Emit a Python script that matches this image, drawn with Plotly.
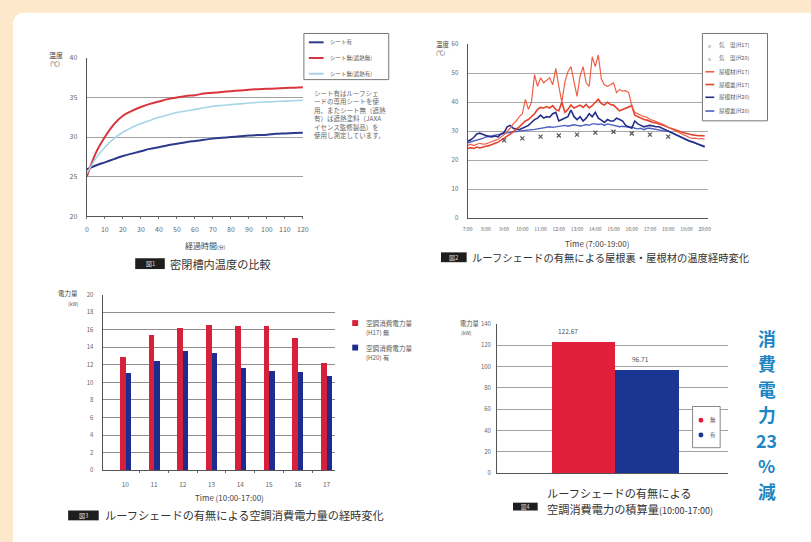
import plotly.graph_objects as go

W, H = 811, 542
FONT = "Noto Sans CJK JP"

# ---------------- 図1 密閉槽内温度の比較 ----------------
elapsed_min = [0, 5, 10, 15, 20, 25, 30, 35, 40, 45, 50, 55, 60,
               65, 70, 75, 80, 85, 90, 95, 100, 105, 110, 115, 120]
temp_sheet_on = [25.9, 26.4, 26.8, 27.2, 27.6, 27.9, 28.2, 28.5, 28.7, 28.95, 29.15, 29.35, 29.5,
                 29.65, 29.8, 29.9, 30.0, 30.1, 30.2, 30.25, 30.3, 30.4, 30.45, 30.5, 30.55]
temp_sheet_off_plain = [25.0, 28.0, 30.0, 31.6, 32.7, 33.3, 33.8, 34.2, 34.5, 34.8, 35.0, 35.2, 35.3,
                        35.5, 35.6, 35.7, 35.8, 35.9, 36.0, 36.05, 36.1, 36.15, 36.2, 36.25, 36.3]
temp_sheet_off_coated = [25.4, 27.3, 28.7, 29.8, 30.6, 31.2, 31.7, 32.1, 32.5, 32.8, 33.1, 33.3, 33.5,
                         33.7, 33.9, 34.0, 34.1, 34.2, 34.3, 34.4, 34.45, 34.5, 34.55, 34.6, 34.65]
fig1_series = ["シート有", "シート無(遮熱無)", "シート無(遮熱有)"]

# ---------------- 図2 屋根裏・屋根材の温度経時変化 (10分毎, 7:00-20:00) ----------------
clock_ticks = [7, 8, 9, 10, 11, 12, 13, 14, 15, 16, 17, 18, 19, 20]
clock_labels = ["7:00", "8:00", "9:00", "10:00", "11:00", "12:00", "13:00",
                "14:00", "15:00", "16:00", "17:00", "18:00", "19:00", "20:00"]
roof_mat_h17 = [25.0, 25.5, 25.0, 25.3, 25.8, 25.5,
                25.6, 26.0, 26.3, 26.8, 27.2, 28.0,
                28.8, 30.0, 31.0, 32.5, 33.5, 35.0,
                36.0, 41.0, 37.5, 40.0, 49.5, 45.5,
                48.4, 46.7, 47.5, 48.4, 46.0, 51.7,
                45.5, 40.0, 47.0, 50.5, 52.3, 46.7,
                42.0, 49.0, 52.3, 46.7, 45.5, 55.7,
                52.3, 56.3, 48.0, 46.0, 45.5, 46.0,
                46.7, 43.3, 44.4, 43.8, 44.0, 43.3,
                38.8, 36.5, 36.0, 35.5, 35.0, 34.8,
                34.0, 33.7, 33.3, 33.0, 32.5, 32.0,
                31.3, 30.8, 30.3, 29.8, 29.2, 28.6,
                28.2, 27.8, 27.5, 27.6, 27.3, 27.5,
                27.2]
roof_attic_h17 = [24.0, 24.3, 24.0, 24.5, 24.2, 24.6,
                  24.8, 25.0, 25.3, 25.8, 26.2, 26.8,
                  27.5, 28.3, 29.0, 29.8, 30.5, 31.5,
                  32.5, 33.5, 34.0, 35.0, 36.0, 37.5,
                  38.2, 38.0, 38.5, 38.0, 38.8, 37.5,
                  37.0, 40.0, 36.5, 37.5, 39.0, 38.0,
                  38.5, 39.0, 38.2, 39.2, 38.0, 38.8,
                  40.0, 41.0, 39.5, 39.0, 40.0, 39.2,
                  39.0, 38.0, 37.0, 37.5, 38.0, 38.5,
                  38.8, 35.5, 35.0, 34.5, 34.0, 33.8,
                  33.3, 33.0, 32.8, 32.5, 32.2, 31.8,
                  31.3, 31.0, 30.6, 30.2, 29.8, 29.5,
                  29.2, 28.9, 28.7, 28.6, 28.4, 28.5,
                  28.3]
roof_mat_h20 = [26.5, 27.0, 27.8, 29.0, 29.3, 28.8,
                28.5, 28.2, 28.0, 28.3, 28.0, 29.0,
                29.5, 31.5, 32.0, 31.0, 30.8, 30.5,
                31.0, 31.5, 32.0, 33.0, 34.0, 34.5,
                35.5, 34.5, 35.0, 34.8, 36.0, 36.5,
                33.5, 34.0, 34.5, 35.0, 37.3, 35.0,
                34.0, 35.0, 33.5, 34.5, 36.0, 35.0,
                36.5, 34.5, 33.8, 33.0, 34.0, 33.5,
                33.5, 34.5, 34.0, 33.5, 32.0, 31.5,
                31.0, 33.5, 32.5, 32.0, 31.5, 31.8,
                32.0, 31.8, 31.5, 31.5, 31.0, 30.5,
                30.0, 29.5, 29.0, 28.5, 28.0, 27.5,
                27.0, 26.5, 26.3, 25.8, 25.3, 25.0,
                24.5]
roof_attic_h20 = [26.0, 26.3, 26.5, 27.0, 27.2, 27.5,
                  28.0, 28.2, 28.5, 28.8, 29.0, 29.2,
                  29.4, 29.5, 29.6, 29.8, 29.9, 30.0,
                  30.0, 30.2, 30.3, 30.5, 30.6, 30.8,
                  31.0, 31.0, 31.2, 31.5, 31.3, 31.5,
                  31.5, 31.8, 32.0, 31.7, 32.0, 32.2,
                  32.0, 31.8, 32.0, 32.3, 32.0, 32.5,
                  32.5, 32.3, 32.5, 32.0, 32.5, 32.2,
                  32.0, 31.8, 31.5, 31.7, 31.5, 31.3,
                  31.5, 31.0, 30.8, 31.0, 30.5, 31.0,
                  31.0, 30.8, 30.5, 30.5, 30.3, 30.0,
                  30.0, 29.5, 29.0, 28.5, 28.0, 27.5,
                  27.0, 26.6, 26.2, 25.8, 25.4, 25.0,
                  24.8]
air_hours = [9, 10, 11, 12, 13, 14, 15, 16, 17, 18]
air_temp_h17 = [26.8, 27.5, 28.1, 28.5, 28.8, 29.5, 29.8, 29.2, 28.8, 28.1]
fig2_series = ["気　温(H17)", "気　温(H20)", "屋根材(H17)", "屋根裏(H17)", "屋根材(H20)", "屋根裏(H20)"]

# ---------------- 図3 空調消費電力量の経時変化 ----------------
hours_ac = [10, 11, 12, 13, 14, 15, 16, 17]
power_without = [12.9, 15.4, 16.2, 16.6, 16.5, 16.5, 15.1, 12.3]
power_with = [11.1, 12.5, 13.6, 13.4, 11.7, 11.3, 11.2, 10.75]

# ---------------- 図4 空調消費電力の積算量 ----------------
total_labels = ["無", "有"]
total_power = [122.67, 96.71]

# 縦書きの見出し
headline_chars = ["消", "費", "電", "力", "23", "%", "減"]

RED3, BLUE3 = "#d7213a", "#1f2c8f"
C1_COLORS = ["#2c3a8c", "#d8363c", "#a6d5e6"]
C2_COLORS = ["#ef5f48", "#e2432c", "#242e88", "#4c5fc2"]


def px(x):
    return x / W


def py(y):
    return 1 - y / H


fig = go.Figure()

# 図1 curves
for vals, name, col, w in zip([temp_sheet_on, temp_sheet_off_plain, temp_sheet_off_coated],
                              fig1_series, C1_COLORS, [2.0, 2.0, 1.6]):
    fig.add_trace(go.Scatter(x=elapsed_min, y=vals, name=name, mode="lines",
                             line=dict(color=col, width=w, shape="spline"),
                             xaxis="x", yaxis="y"))

# 図2 curves
times = [7 + i / 6 for i in range(len(roof_mat_h17))]
for vals, name, col, w in zip([roof_attic_h20, roof_mat_h20, roof_attic_h17, roof_mat_h17],
                              ["屋根裏(H20)", "屋根材(H20)", "屋根裏(H17)", "屋根材(H17)"],
                              [C2_COLORS[3], C2_COLORS[2], C2_COLORS[1], C2_COLORS[0]],
                              [1.4, 1.6, 1.6, 1.2]):
    fig.add_trace(go.Scatter(x=times, y=vals, name=name, mode="lines",
                             line=dict(color=col, width=w), xaxis="x2", yaxis="y2"))
fig.add_trace(go.Scatter(x=air_hours, y=air_temp_h17, name=fig2_series[0], mode="markers",
                         marker=dict(symbol="x-thin-open", size=4, color="#555",
                                     line=dict(color="#555", width=1.2)),
                         xaxis="x2", yaxis="y2"))

# 図3 bars
fig.add_trace(go.Bar(x=hours_ac, y=power_without, offset=-0.2, width=0.2,
                     marker=dict(color=RED3, line=dict(width=0)), xaxis="x3", yaxis="y3"))
fig.add_trace(go.Bar(x=hours_ac, y=power_with, offset=0.0, width=0.18,
                     marker=dict(color=BLUE3, line=dict(width=0)), xaxis="x3", yaxis="y3"))

# 図4 bars
fig.add_trace(go.Bar(x=[0, 1], y=total_power, width=1,
                     marker=dict(color=["#e11f3b", "#1b3592"], line=dict(width=0)),
                     xaxis="x4", yaxis="y4"))

tick_font = dict(family=FONT, color="#666")
ax_common = dict(showline=True, linecolor="#555", linewidth=1.3, zeroline=False, fixedrange=True)

layout = dict(
    width=W, height=H, autosize=False, showlegend=False,
    margin=dict(l=0, r=0, t=0, b=0, pad=0),
    paper_bgcolor="#fde8cb", plot_bgcolor="rgba(0,0,0,0)",
    font=dict(family=FONT, color="#333"),
    bargap=0,
    xaxis=dict(domain=[px(83), px(302)], range=[0, 120], anchor="y",
               tickvals=list(range(0, 121, 10)), ticks="outside", ticklen=2, tickcolor="#777",
               tickfont=dict(size=7, **tick_font), ticklabelstandoff=4, showgrid=False, **ax_common),
    yaxis=dict(domain=[py(214), py(53)], range=[20, 40], anchor="x",
               tickvals=[20, 25, 30, 35, 40], ticks="", tickfont=dict(size=7, **tick_font),
               ticklabelstandoff=7, showgrid=True, gridcolor="#a0a0a0", gridwidth=1, **ax_common),
    xaxis2=dict(domain=[px(469), px(713)], range=[7, 20.2], anchor="y2",
                tickvals=clock_ticks, ticktext=clock_labels, ticks="", tickangle=0,
                tickfont=dict(size=5, **tick_font), ticklabelstandoff=6, showgrid=False, **ax_common),
    yaxis2=dict(domain=[py(216), py(39)], range=[0, 60], anchor="x2",
                tickvals=list(range(0, 61, 10)), ticks="", tickfont=dict(size=6, **tick_font),
                ticklabelstandoff=7, showgrid=True, gridcolor="#a8a8a8", gridwidth=1, **ax_common),
    xaxis3=dict(domain=[px(99), px(335)], range=[9.21, 17.31], anchor="y3",
                tickvals=hours_ac, ticks="", tickfont=dict(size=6.5, **tick_font),
                ticklabelstandoff=8, showgrid=False,
                minor=dict(tickvals=[10.5, 11.5, 12.5, 13.5, 14.5, 15.5, 16.5], ticks="outside",
                           ticklen=2, tickcolor="#666", showgrid=False), **ax_common),
    yaxis3=dict(domain=[py(473), py(294)], range=[0, 20], anchor="x3",
                tickvals=list(range(0, 21, 2)), ticks="", tickfont=dict(size=6, **tick_font),
                ticklabelstandoff=7, showgrid=True, gridcolor="#8e8e8e", gridwidth=1, **ax_common),
    xaxis4=dict(domain=[px(499), px(733)], range=[-1.375, 2.28], anchor="y4",
                showticklabels=False, ticks="", showgrid=False, **ax_common),
    yaxis4=dict(domain=[py(476), py(324)], range=[0, 140], anchor="x4",
                tickvals=list(range(0, 141, 20)), ticks="", tickfont=dict(size=6, **tick_font),
                ticklabelstandoff=4, showgrid=True, gridcolor="#a0a0a0", gridwidth=1, **ax_common),
)
fig.update_layout(**layout)

shapes = []
annots = []


def text(x, y, s, size=7, color="#444", xanchor="left", bold=False, family=FONT, yanchor="middle"):
    if bold:
        s = "<b>" + s + "</b>"
    annots.append(dict(x=px(x), y=py(y), xref="paper", yref="paper", text=s, showarrow=False,
                       xanchor=xanchor, yanchor=yanchor, align=xanchor,
                       font=dict(size=size, color=color, family=family)))


def rect(x0, y0, x1, y1, fill="white", line="#888", lw=1, layer="above"):
    shapes.append(dict(type="rect", xref="paper", yref="paper", x0=px(x0), x1=px(x1),
                       y0=py(y1), y1=py(y0), fillcolor=fill, line=dict(color=line, width=lw),
                       layer=layer))


def hline(x0, x1, y, color, width):
    shapes.append(dict(type="line", xref="paper", yref="paper", x0=px(x0), x1=px(x1),
                       y0=py(y), y1=py(y), line=dict(color=color, width=width)))


# white rounded page panel
r = 13
panel = (f"M {px(8)},{py(560)} L {px(8)},{py(7 + r)} Q {px(8)},{py(7)} {px(8 + r)},{py(7)} "
         f"L {px(830)},{py(7)} L {px(830)},{py(560)} Z")
shapes.append(dict(type="path", path=panel, xref="paper", yref="paper",
                   fillcolor="white", line=dict(width=0), layer="below"))

# ---- 図1 labels ----
text(43, 50, "温度", 7, "#444")
text(44, 59, "(℃)", 6, "#555")
text(203, 244, "経過時間<span style='font-size:5px'>(分)</span>", 8, "#444", "center")
rect(303, 28, 389, 75, "white", "#777", 1)
for i, (name, col) in enumerate(zip(fig1_series, C1_COLORS)):
    yy = [37, 53, 69][i]
    hline(308, 323, yy, col, 2)
    text(327, yy, name, 5.5, "#555")
note_lines = ["シート有はルーフシェ", "ードの専用シートを使", "用、またシート無（遮熱",
              "有）は遮熱塗料（JAXA", "イセンス監修製品）を", "使用し測定しています。"]
text(311, 82, "<br>".join(note_lines), 6.5, "#666", yanchor="top")
rect(132, 257, 162, 268, "#1e1e1e", "#1e1e1e", 0)
text(147, 262.5, "図1", 6, "#ddd", "center")
text(165, 262.5, "密閉槽内温度の比較", 11.2, "#333")

# ---- 図2 labels ----
text(435, 39, "温度", 6.5, "#444")
text(435, 48, "(℃)", 5.5, "#555")
text(600, 242, "Time (7:00-19:00)", 8, "#444", "center")
rect(707, 28, 773, 117, "white", "#777", 1)
leg_y = [40, 53, 67, 80, 93, 107]
leg_cols = [None, None] + C2_COLORS
for i, (name, col) in enumerate(zip(fig2_series, leg_cols)):
    if col is None:
        text(714, leg_y[i], "×", 5, "#555", "center")
    else:
        hline(710, 719, leg_y[i], col, 1.6)
    text(722, leg_y[i], name, 5.5, "#555")
rect(442, 251, 468, 261, "#1e1e1e", "#1e1e1e", 0)
text(455, 256, "図2", 6, "#ddd", "center")
text(471, 256, "ルーフシェードの有無による屋根裏・屋根材の温度経時変化", 10.3, "#333")

# ---- 図3 labels ----
text(52, 292, "電力量", 6.5, "#444")
text(62, 303, "(kW)", 5, "#555")
text(228, 501, "Time (10:00-17:00)", 8, "#444", "center")
rect(352, 320, 358, 326, RED3, RED3, 0)
text(364, 323, "空調消費電力量", 6.6, "#555")
text(364, 333, "(H17) 無", 6.2, "#555")
rect(352, 345, 358, 351, BLUE3, BLUE3, 0)
text(364, 348, "空調消費電力量", 6.6, "#555")
text(364, 358, "(H20) 有", 6.2, "#555")
rect(64, 514, 95, 524, "#1e1e1e", "#1e1e1e", 0)
text(79.5, 519, "図3", 6, "#ddd", "center")
text(99, 519, "ルーフシェードの有無による空調消費電力量の経時変化", 11.2, "#333")

# ---- 図4 labels ----
text(459, 323, "電力量", 6.3, "#444")
text(460, 333, "(kW)", 5, "#555")
for i, v in enumerate(total_power):
    annots.append(dict(x=i, y=v, xref="x4", yref="y4", text=f"{v:.2f}", showarrow=False,
                       xanchor="center", yanchor="bottom", yshift=4, xshift=[-16, -7][i],
                       font=dict(size=6.5, color="#555", family=FONT)))
rect(697, 408, 725, 450, "white", "#888", 1)
shapes.append(dict(type="circle", xref="paper", yref="paper", x0=px(703), x1=px(708),
                   y0=py(424.5), y1=py(419.5), fillcolor="#e11f3b", line=dict(width=0)))
shapes.append(dict(type="circle", xref="paper", yref="paper", x0=px(703), x1=px(708),
                   y0=py(439.5), y1=py(434.5), fillcolor="#1b3592", line=dict(width=0)))
text(713, 422, total_labels[0], 5.5, "#555")
text(713, 437, total_labels[1], 5.5, "#555")
rect(515, 506, 540, 514, "#1e1e1e", "#1e1e1e", 0)
text(527.5, 510, "図4", 5.5, "#ddd", "center")
text(547, 496, "ルーフシェードの有無による", 11.2, "#333")
text(547, 512, "空調消費電力の積算量<span style='font-size:9px'>(10:00-17:00)</span>", 11.2, "#333")

# ---- 縦書きの見出し (1文字ずつ縦に並べる) ----
for i, ch in enumerate(headline_chars):
    text(772, 338 + i * 26, ch, 17.8, "#1b86c3", "center", bold=True)

fig.update_layout(shapes=shapes, annotations=annots)
fig.write_html("out.html")
